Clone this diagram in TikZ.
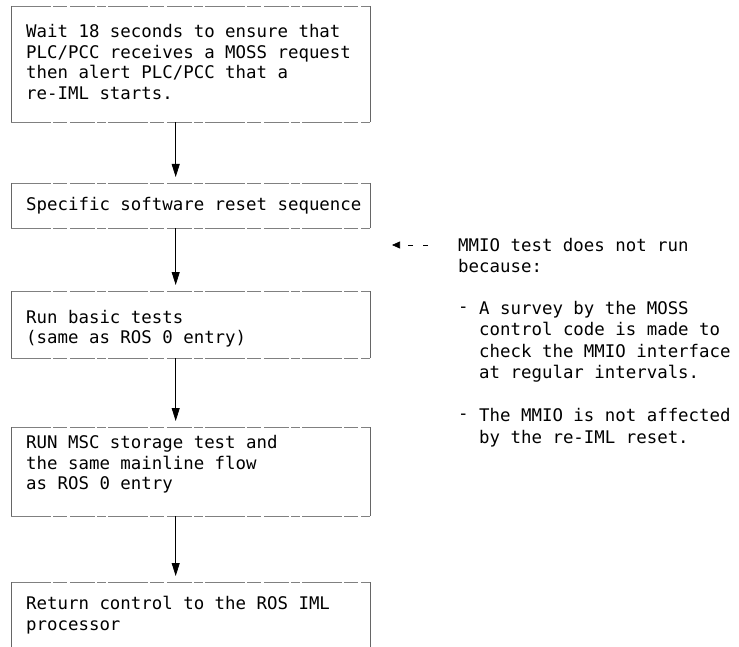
\documentclass[tikz,border=0pt]{standalone}
\usepackage{fontspec}
\setmonofont{DejaVu Sans Mono}
\usetikzlibrary{arrows.meta}
\newcommand\drawboxedges[1]{%
  \draw[hedge] (#1.north west) -- (#1.north east);
  \draw[hedge] (#1.south west) -- (#1.south east);
  \draw[vedge] (#1.north west) -- (#1.south west);
  \draw[vedge] (#1.north east) -- (#1.south east);}
\begin{document}
\begin{tikzpicture}[x=1pt,y=-1pt,
  box/.style={draw=none, rectangle, anchor=north west, inner sep=0pt, minimum width=359pt},
  hedge/.style={draw=black!50, line width=0.6pt, dash pattern=on 40pt off 2pt on 14pt off 3pt on 25pt off 2pt on 9pt off 2pt},
  vedge/.style={draw=black!60, line width=0.6pt},
  txt/.style={font=\ttfamily\fontsize{17.4}{20.5}\selectfont, align=left, anchor=west, inner sep=0pt},
  rtxt/.style={font=\ttfamily\fontsize{17.4}{21.5}\selectfont, align=left, anchor=west, inner sep=0pt},
  flow/.style={line width=0.8pt, -{Triangle[length=13pt,width=8pt]}, shorten >=6pt},
  note/.style={line width=0.6pt, dash pattern=on 5pt off 10pt, -{Triangle[length=8pt,width=7pt]}}]
\useasboundingbox (0,0) rectangle (739,647);
\clip (0,0) rectangle (739,647);
% boxes
\node[box, minimum height=116pt] (b1) at (11,6) {};
\node[box, minimum height=45pt]  (b2) at (11,183) {};
\node[box, minimum height=67pt]  (b3) at (11,291) {};
\node[box, minimum height=89pt]  (b4) at (11,427) {};
\node[box, minimum height=100pt] (b5) at (11,582) {};
\drawboxedges{b1}
\drawboxedges{b2}
\drawboxedges{b3}
\drawboxedges{b4}
\drawboxedges{b5}
% texts
\node[txt] (t1) at (26,62) {Wait 18 seconds to ensure that\\PLC/PCC receives a MOSS request\\then alert PLC/PCC that a\\re-IML starts.};
\node[txt] (t2) at (26,206) {Specific software reset sequence};
\node[txt] (t3) at (26,328.5) {Run basic tests\\(same as ROS 0 entry)};
\node[txt] (t4) at (26,464.5) {RUN MSC storage test and\\the same mainline flow\\as ROS 0 entry};
\node[txt] (t5) at (26,615) {Return control to the ROS IML\\processor};
% flow arrows
\draw[flow] ([xshift=-15pt]b1.south) -- ([xshift=-15pt]b2.north);
\draw[flow] ([xshift=-15pt]b2.south) -- ([xshift=-15pt]b3.north);
\draw[flow] ([xshift=-15pt]b3.south) -- ([xshift=-15pt]b4.north);
\draw[flow] ([xshift=-15pt]b4.south) -- ([xshift=-15pt]b5.north);
% note
\coordinate (ptip) at (392,245);
\coordinate (pstart) at (428,245);
\draw[note] (pstart) -- (ptip);
\node[rtxt] (n1) at (458,255.75) {MMIO test does not run\\because:};
\node[rtxt] (d1) at (458,309.5) {-};
\node[rtxt] (n2) at (479,341.75) {A survey by the MOSS\\control code is made to\\check the MMIO interface\\at regular intervals.};
\node[rtxt] (d2) at (458,417) {-};
\node[rtxt] (n3) at (479,427.75) {The MMIO is not affected\\by the re-IML reset.};
\end{tikzpicture}
\end{document}
